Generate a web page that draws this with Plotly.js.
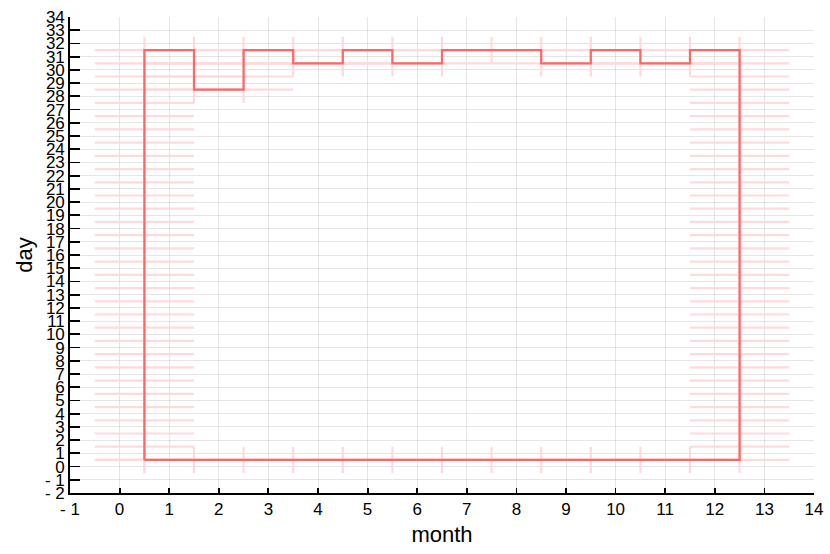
<!DOCTYPE html>
<html>
<head>
<meta charset="utf-8">
<script src="https://cdn.plot.ly/plotly-3.0.1.min.js"></script>
<style>html,body{margin:0;padding:0;background:#fff;}#chart{width:830px;height:554px;}</style>
</head>
<body>
<div id="chart"></div>
<script>
// Data
const months = [1, 2, 3, 4, 5, 6, 7, 8, 9, 10, 11, 12];
const daysInMonth = [31, 28, 31, 30, 31, 30, 31, 31, 30, 31, 30, 31];
const xTickVals = [-1, 0, 1, 2, 3, 4, 5, 6, 7, 8, 9, 10, 11, 12, 13, 14];
const yTickVals = [];
for (let v = -2; v <= 34; v++) yTickVals.push(v);
const fmt = v => (v < 0 ? "- " + Math.abs(v) : String(v));

// Boundary path of all (month, day) cells, through unit-step grid vertices
const xs = [], ys = [];
const first = months[0] - 0.5;
for (let d = 0; d <= daysInMonth[0]; d++) { xs.push(first); ys.push(d + 0.5); }
for (let i = 0; i < months.length; i++) {
  const xr = months[i] + 0.5;
  const top = daysInMonth[i] + 0.5;
  xs.push(xr); ys.push(top);
  if (i < months.length - 1) {
    const nxt = daysInMonth[i + 1] + 0.5;
    const s = nxt > top ? 1 : -1;
    for (let y = top + s; s > 0 ? y <= nxt : y >= nxt; y += s) { xs.push(xr); ys.push(y); }
  }
}
const last = months[months.length - 1] + 0.5;
for (let y = daysInMonth[daysInMonth.length - 1] - 0.5; y >= 0.5; y--) { xs.push(last); ys.push(y); }
for (let i = months.length - 1; i >= 0; i--) { xs.push(months[i] - 0.5); ys.push(0.5); }

const faint = 'rgb(255,218,220)';
const traces = [
  {
    x: xs, y: ys, type: 'scatter', mode: 'markers',
    marker: {size: 1, opacity: 0},
    error_x: {type: 'constant', value: 1, width: 0, thickness: 2.2, color: faint},
    error_y: {type: 'constant', value: 1, width: 0, thickness: 2.2, color: faint},
    hoverinfo: 'skip', showlegend: false
  },
  {
    x: xs, y: ys, type: 'scatter', mode: 'lines',
    line: {color: 'rgb(255,102,102)', width: 2.2},
    showlegend: false
  }
];

const font = {family: 'Liberation Sans, Arial, sans-serif', color: '#000'};
const layout = {
  width: 830, height: 554,
  margin: {l: 70, r: 16, t: 17, b: 61},
  paper_bgcolor: '#fff', plot_bgcolor: '#fff',
  showlegend: false,
  font: font,
  xaxis: {
    range: [-1, 14], tickmode: 'array', tickvals: xTickVals, ticktext: xTickVals.map(fmt),
    showgrid: true, gridcolor: 'rgba(0,0,0,0.1)', gridwidth: 1,
    zeroline: false, showline: true, linecolor: '#000', linewidth: 1.8,
    ticks: 'inside', ticklen: 5, tickcolor: '#000', tickwidth: 1.8,
    tickfont: {family: font.family, size: 17, color: '#000'},
    title: {text: 'month', font: {family: font.family, size: 22, color: '#000'}, standoff: 8}
  },
  yaxis: {
    range: [-2, 34], tickmode: 'array', tickvals: yTickVals, ticktext: yTickVals.map(fmt),
    showgrid: true, gridcolor: 'rgba(0,0,0,0.1)', gridwidth: 1,
    zeroline: false, showline: true, linecolor: '#000', linewidth: 1.8,
    ticks: 'inside', ticklen: 10, tickcolor: '#000', tickwidth: 1.8,
    tickfont: {family: font.family, size: 17, color: '#000'},
    title: {text: 'day', font: {family: font.family, size: 22, color: '#000'}, standoff: 6}
  }
};

Plotly.newPlot('chart', traces, layout, {displayModeBar: false, staticPlot: true});
</script>
</body>
</html>
